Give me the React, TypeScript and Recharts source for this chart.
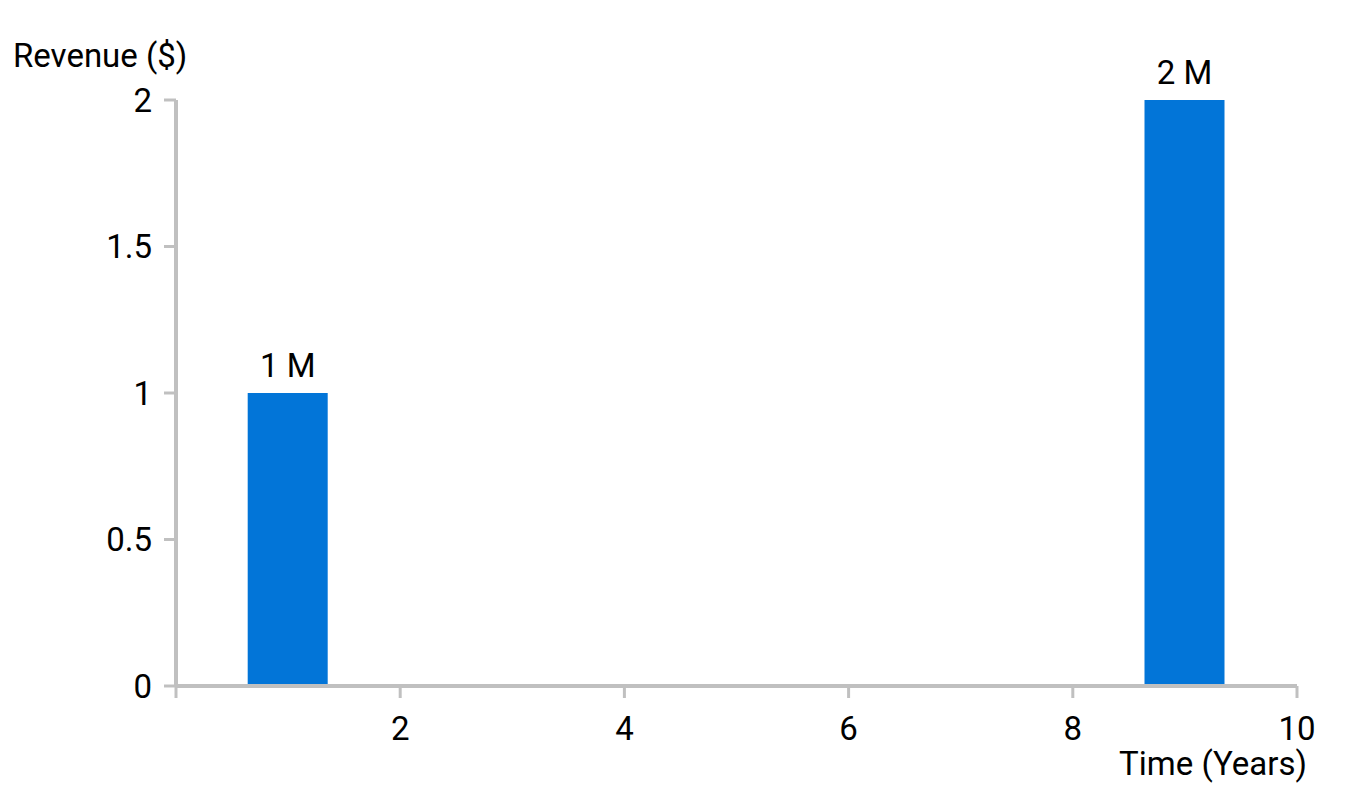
import React from "react";
import { BarChart, Bar, XAxis, YAxis, LabelList, Label } from "recharts";

const years = [1, 9];
const revenue = [1, 2];
const barLabels = ["1 M", "2 M"];
const xTicks = [0, 2, 4, 6, 8, 10];
const yTicks = [0, 0.5, 1, 1.5, 2];

const AXIS = "#c0c0c0";
const BAR = "#0275d8";
const FONT = "Roboto, sans-serif";
const FS = 33;

const data = years.map((y, i) => ({ year: y, revenue: revenue[i], label: barLabels[i] }));

export default function App() {
  return (
    <div style={{ position: "absolute", left: 0, top: 0, width: 1372, height: 800, background: "#fff", fontFamily: FONT }}>
      <BarChart
        width={1372}
        height={800}
        data={data}
        margin={{ top: 100, right: 75, bottom: 84, left: 96 }}
      >
        <XAxis
          dataKey="year"
          type="number"
          domain={[0, 10]}
          ticks={xTicks}
          interval={0}
          height={30}
          tickFormatter={(v) => (v === 0 ? "" : String(v))}
          axisLine={{ stroke: AXIS, strokeWidth: 4 }}
          tickLine={{ stroke: AXIS, strokeWidth: 3 }}
          tickSize={12}
          tickMargin={19}
          tick={{ fill: "#000", fontSize: FS, fontFamily: FONT }}
        >
          <Label
            content={({ viewBox }: any) => (
              <text
                x={viewBox.x + viewBox.width + 10}
                y={viewBox.y + 89}
                textAnchor="end"
                fill="#000"
                fontSize={FS}
                fontFamily={FONT}
              >
                Time (Years)
              </text>
            )}
          />
        </XAxis>
        <YAxis
          type="number"
          domain={[0, 2]}
          ticks={yTicks}
          interval={0}
          width={80}
          axisLine={{ stroke: AXIS, strokeWidth: 4 }}
          tickLine={{ stroke: AXIS, strokeWidth: 3 }}
          tickSize={12}
          tickMargin={12}
          tick={{ fill: "#000", fontSize: FS, fontFamily: FONT }}
        >
          <Label
            content={({ viewBox }: any) => (
              <text
                x={viewBox.x + viewBox.width - 163}
                y={viewBox.y - 33}
                textAnchor="start"
                fill="#000"
                fontSize={FS}
                fontFamily={FONT}
              >
                Revenue ($)
              </text>
            )}
          />
        </YAxis>
        <Bar dataKey="revenue" fill={BAR} barSize={80} isAnimationActive={false}>
          <LabelList
            dataKey="label"
            position="top"
            offset={16}
            fill="#000"
            fontSize={FS}
            fontFamily={FONT}
          />
        </Bar>
      </BarChart>
    </div>
  );
}
